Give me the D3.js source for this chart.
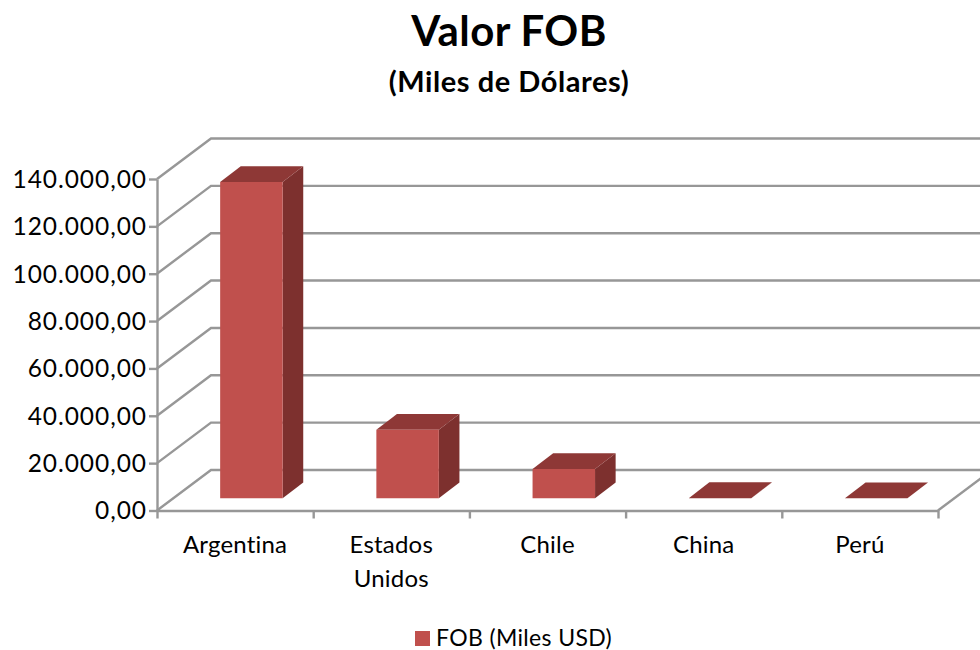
<!DOCTYPE html>
<html>
<head>
<meta charset="utf-8">
<style>
html,body{margin:0;padding:0;background:#fff}
text{font-family:Lato,"Open Sans",sans-serif;fill:#000}
</style>
<script src="https://cdn.jsdelivr.net/npm/d3@7/dist/d3.min.js"></script>
</head>
<body>
<svg id="c" width="980" height="650"></svg>
<script>
const categories=[["Argentina"],["Estados","Unidos"],["Chile"],["China"],["Perú"]];
const categoryKeys=["Argentina","Estados Unidos","Chile","China","Perú"];
const fobValues=[133600,28900,12400,60,40];
const tickValues=[0,20000,40000,60000,80000,100000,120000,140000];
const titleText="Valor FOB";
const subtitleText="(Miles de Dólares)";
const legendText="FOB (Miles USD)";

const grid="#979797",front="#C0504D",side="#7D302E",top_="#8E3836";
const svg=d3.select("#c");
const es=d3.formatLocale({decimal:",",thousands:".",grouping:[3]});
const fmt=es.format(",.2f");

const y=d3.scaleLinear().domain([0,140000]).range([510.5,179]);
const x=d3.scaleBand().domain(categoryKeys).range([157,938]).paddingInner(0.6).paddingOuter(0.3);
const wallDx=54,wallDy=-40.5;
const barZx=16.3,barZy=-12.2,barDx=20.6,barDy=-15.8;

// wall and floor
const g=svg.append("g").attr("fill","none").attr("stroke",grid).attr("stroke-width",2.4);
tickValues.forEach(v=>{
  g.append("path").attr("d",d3.line()([[157,y(v)],[157+wallDx,y(v)+wallDy],[1000,y(v)+wallDy]]));
});
g.append("path").attr("d",d3.line()([[938,y(0)],[938+wallDx,y(0)+wallDy]]));

// axes
const yAxis=d3.axisLeft(y).tickValues(tickValues).tickFormat(fmt).tickSize(8).tickSizeOuter(0).tickPadding(2);
const yG=svg.append("g").attr("transform","translate(157,0)").call(yAxis);
yG.selectAll("line,path").attr("stroke",grid).attr("stroke-width",2.4);
yG.selectAll("text").attr("font-size",24.5).attr("font-family","Lato").attr("fill","#000")
  .attr("letter-spacing",0.95).attr("dy","0.34em");

const xTicks=d3.scaleLinear().domain([0,5]).range([157,938]);
const xAxis=d3.axisBottom(xTicks).ticks(5).tickSize(8).tickSizeOuter(0).tickFormat("");
const xG=svg.append("g").attr("transform",`translate(0,${y(0)})`).call(xAxis);
xG.selectAll("line,path").attr("stroke",grid).attr("stroke-width",2.4);

// bars
const line=d3.line();
const bars=svg.append("g").selectAll("g").data(categoryKeys).join("g");
bars.each(function(k,i){
  const s=d3.select(this);
  const l=x(k)+barZx,r=l+x.bandwidth();
  const b=y(0)+barZy,t=y(fobValues[i])+barZy;
  s.append("path").attr("fill",side).attr("d",line([[r,b],[r+barDx,b+barDy],[r+barDx,t+barDy],[r,t]])+"Z");
  s.append("path").attr("fill",top_).attr("d",line([[l,t],[l+barDx,t+barDy],[r+barDx,t+barDy],[r,t]])+"Z");
  s.append("path").attr("fill",front).attr("d",line([[l,b],[r,b],[r,t],[l,t]])+"Z");
});

// category labels
categories.forEach((lines,i)=>{
  const cx=x(categoryKeys[i])+x.bandwidth()/2;
  const t=svg.append("text").attr("text-anchor","middle").attr("font-size",24).attr("letter-spacing",0.2)
    .attr("x",cx).attr("y",553);
  lines.forEach((ln,j)=>t.append("tspan").attr("x",cx).attr("dy",j?34:0).text(ln));
});

// titles
svg.append("text").attr("x",509).attr("y",46).attr("text-anchor","middle").attr("font-size",42).attr("font-weight",700).attr("letter-spacing",0.4).text(titleText);
svg.append("text").attr("x",509).attr("y",92).attr("text-anchor","middle").attr("font-size",29).attr("font-weight",700).attr("letter-spacing",0.55).text(subtitleText);

// legend
svg.append("rect").attr("x",415).attr("y",631).attr("width",15).attr("height",15).attr("fill",front);
svg.append("text").attr("x",436).attr("y",646).attr("font-size",23).attr("letter-spacing",0.35).text(legendText);
</script>
</body>
</html>
